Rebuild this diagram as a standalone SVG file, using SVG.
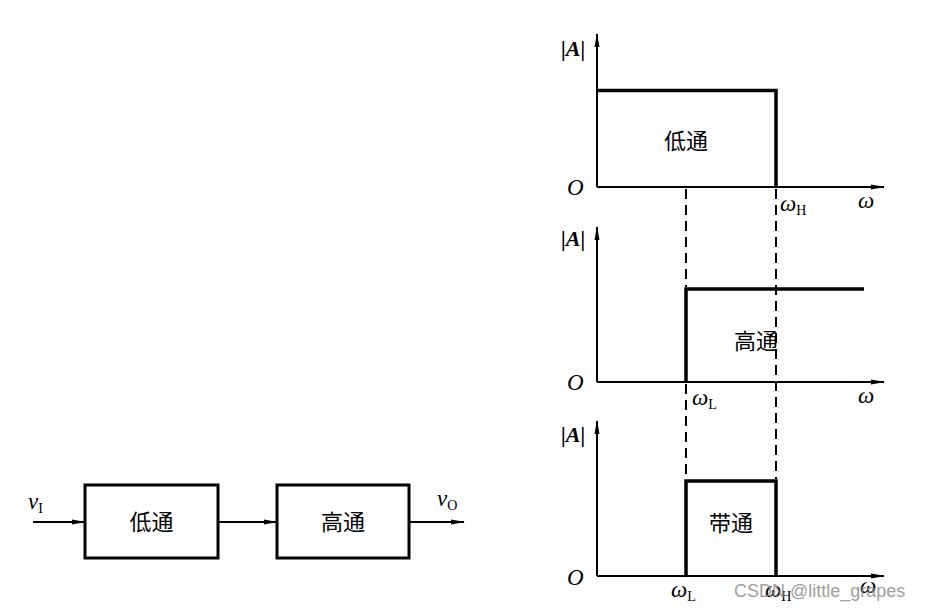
<svg xmlns="http://www.w3.org/2000/svg" width="931" height="611" viewBox="0 0 931 611">
<style>
.ax{stroke:#000;stroke-width:2;fill:none}
.thick{stroke:#000;stroke-width:3.5;fill:none}
.dash{stroke:#000;stroke-width:2;stroke-dasharray:10,6;fill:none}
.box{stroke:#000;stroke-width:3;fill:#fff}
.it{font-family:"Liberation Serif",serif;font-style:italic;font-size:23px;fill:#000}
.ab{font-family:"Liberation Serif",serif;font-style:italic;font-weight:bold;font-size:22px;fill:#000}
.sub{font-family:"Liberation Serif",serif;font-style:normal;font-size:14px}
.cn{font-family:"Noto Sans CJK SC",sans-serif;font-size:22px;fill:#000}
.wm{font-family:"Liberation Sans",sans-serif;font-size:18px;fill:#888;opacity:0.8}
</style>
<defs>
<marker id="ar" markerWidth="14" markerHeight="8" refX="13" refY="4" orient="auto" markerUnits="userSpaceOnUse">
<path d="M0,1.5 L14,4 L0,6.5 Z" fill="#000"/>
</marker>
</defs>
<rect width="931" height="611" fill="#fff"/>
<g id="connectors">
<line class="ax" x1="33" y1="522" x2="85" y2="522" marker-end="url(#ar)"/>
<line class="ax" x1="218" y1="522" x2="277" y2="522" marker-end="url(#ar)"/>
<line class="ax" x1="409" y1="522" x2="464" y2="522" marker-end="url(#ar)"/>
</g>
<g id="block-lowpass">
<rect class="box" x="85" y="485" width="133" height="73"/>
<text class="cn" x="151.5" y="530" text-anchor="middle">低通</text>
</g>
<g id="block-highpass">
<rect class="box" x="277" y="485" width="132" height="73"/>
<text class="cn" x="343" y="530" text-anchor="middle">高通</text>
</g>
<g id="io-labels">
<text class="it" x="28" y="509">v<tspan class="sub" dy="4">I</tspan></text>
<text class="it" x="437" y="506">v<tspan class="sub" dy="4">O</tspan></text>
</g>
<g id="chart-lowpass">
<line class="ax" x1="597" y1="187" x2="597" y2="34" marker-end="url(#ar)"/>
<line class="ax" x1="597" y1="187" x2="884" y2="187" marker-end="url(#ar)"/>
<polyline class="thick" points="597,90.5 776,90.5 776,187"/>
<text class="ab" x="561" y="56">|A|</text>
<text class="it" x="567" y="195">O</text>
<text class="it" x="780" y="211">ω<tspan class="sub" dy="4">H</tspan></text>
<text class="it" x="858" y="208">ω</text>
<text class="cn" x="686" y="149" text-anchor="middle">低通</text>
</g>
<g id="chart-highpass">
<line class="ax" x1="597" y1="382" x2="597" y2="227" marker-end="url(#ar)"/>
<line class="ax" x1="597" y1="382" x2="884" y2="382" marker-end="url(#ar)"/>
<polyline class="thick" points="686,382 686,289 864,289"/>
<text class="ab" x="561" y="246">|A|</text>
<text class="it" x="567" y="390">O</text>
<text class="it" x="692" y="405">ω<tspan class="sub" dy="4">L</tspan></text>
<text class="it" x="858" y="403">ω</text>
<text class="cn" x="756" y="349" text-anchor="middle">高通</text>
</g>
<g id="chart-bandpass">
<line class="ax" x1="597" y1="576" x2="597" y2="421" marker-end="url(#ar)"/>
<line class="ax" x1="597" y1="576" x2="884" y2="576" marker-end="url(#ar)"/>
<polyline class="thick" points="686,576 686,481 776,481 776,576"/>
<text class="ab" x="561" y="442">|A|</text>
<text class="it" x="567" y="585">O</text>
<text class="it" x="671" y="597">ω<tspan class="sub" dy="4">L</tspan></text>
<text class="it" x="765" y="597">ω<tspan class="sub" dy="4">H</tspan></text>
<text class="it" x="860" y="593">ω</text>
<text class="cn" x="731" y="531" text-anchor="middle">带通</text>
</g>
<g id="dashed-guides">
<line class="dash" x1="686" y1="189" x2="686" y2="287"/>
<line class="dash" x1="686" y1="384" x2="686" y2="479"/>
<line class="dash" x1="776" y1="189" x2="776" y2="479"/>
</g>
<text class="wm" x="734" y="597">CSDN @little_grapes</text>
</svg>
